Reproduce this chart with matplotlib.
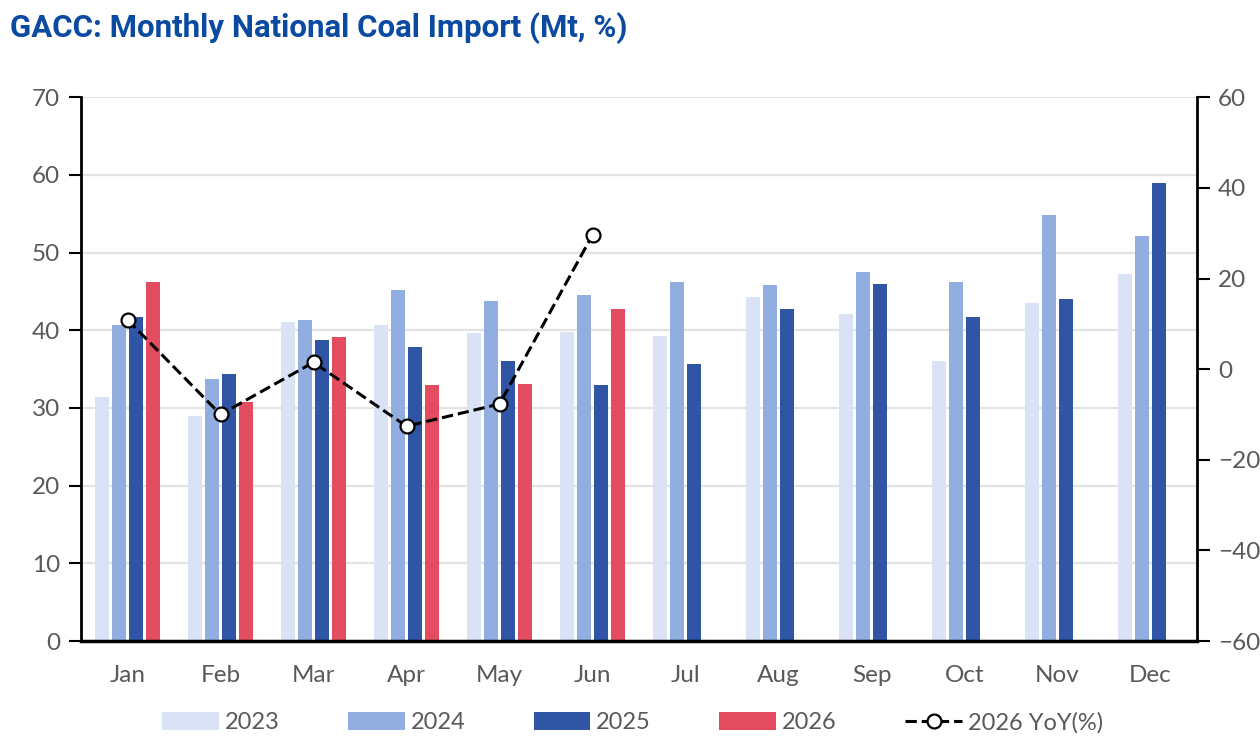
import numpy as np
import matplotlib
matplotlib.use('Agg')
import matplotlib.pyplot as plt

months = ['Jan', 'Feb', 'Mar', 'Apr', 'May', 'Jun',
          'Jul', 'Aug', 'Sep', 'Oct', 'Nov', 'Dec']
imp_2023 = [31.4, 29.0, 41.1, 40.7, 39.6, 39.8, 39.3, 44.3, 42.1, 36.0, 43.5, 47.2]
imp_2024 = [40.7, 33.7, 41.3, 45.2, 43.8, 44.6, 46.2, 45.8, 47.5, 46.2, 54.9, 52.2]
imp_2025 = [41.7, 34.4, 38.8, 37.8, 36.1, 32.9, 35.6, 42.8, 46.0, 41.7, 44.0, 58.9]
imp_2026 = [46.2, 30.8, 39.1, 33.0, 33.1, 42.8]
yoy_2026 = [10.9, -10.0, 1.5, -12.6, -7.7, 29.6]

series = [('2023', imp_2023, '#dae3f5'),
          ('2024', imp_2024, '#92ade0'),
          ('2025', imp_2025, '#2f55a4'),
          ('2026', imp_2026, '#e44d5f')]

plt.rcParams['font.family'] = ['Lato', 'DejaVu Sans']
grey = '#595959'

fig = plt.figure(figsize=(12.6, 7.48), dpi=100)
ax = fig.add_axes([0.0643, 0.143, 0.8857, 0.727])

x = np.arange(len(months))
pitch = 0.183
width = 0.145
for i, (name, vals, col) in enumerate(series):
    xs = x[:len(vals)] + (i - 1.5) * pitch
    ax.bar(xs, vals, width=width, color=col, label=name, zorder=2)

ax.set_xlim(-0.5, 11.5)
ax.set_ylim(0, 70)
ax.set_yticks(np.arange(0, 71, 10))
ax.set_xticks(x)
ax.set_xticklabels(months)
ax.yaxis.grid(True, color='#e3e3e3', linewidth=1.6, zorder=0)
ax.set_axisbelow(True)
ax.tick_params(axis='x', length=0, pad=17, labelsize=17.5, labelcolor=grey)
ax.tick_params(axis='y', length=9, width=1.5, pad=6, labelsize=17.5, labelcolor=grey)
for s in ['top', 'right']:
    ax.spines[s].set_visible(False)
ax.spines['left'].set_linewidth(2)
ax.spines['bottom'].set_linewidth(2.5)

ax2 = ax.twinx()
ax2.plot(x[:len(yoy_2026)], yoy_2026, linestyle='--', color='black', linewidth=2.2,
         marker='o', markersize=10, markerfacecolor='white', markeredgecolor='black',
         markeredgewidth=1.6, label='2026 YoY(%)', zorder=3)
ax2.set_ylim(-60, 60)
ax2.set_yticks(np.arange(-60, 61, 20))
ax2.tick_params(axis='y', length=9, width=1.5, pad=6, labelsize=17.5, labelcolor=grey)
for s in ['top', 'left', 'bottom']:
    ax2.spines[s].set_visible(False)
ax2.spines['right'].set_linewidth(2)

h1, l1 = ax.get_legend_handles_labels()
h2, l2 = ax2.get_legend_handles_labels()
leg = fig.legend(h1 + h2, l1 + l2, loc='center', bbox_to_anchor=(0.502, 0.034),
                 ncol=5, frameon=False, fontsize=17, handlelength=2.4,
                 handleheight=0.75, handletextpad=0.25, columnspacing=2.9)
for t in leg.get_texts():
    t.set_color(grey)

fig.text(0.008, 0.963, 'GACC: Monthly National Coal Import (Mt, %)',
         fontsize=22.5, fontweight='bold', color='#0a4aa0', family='Roboto',
         ha='left', va='center')

fig.savefig('out.png', dpi=100)
